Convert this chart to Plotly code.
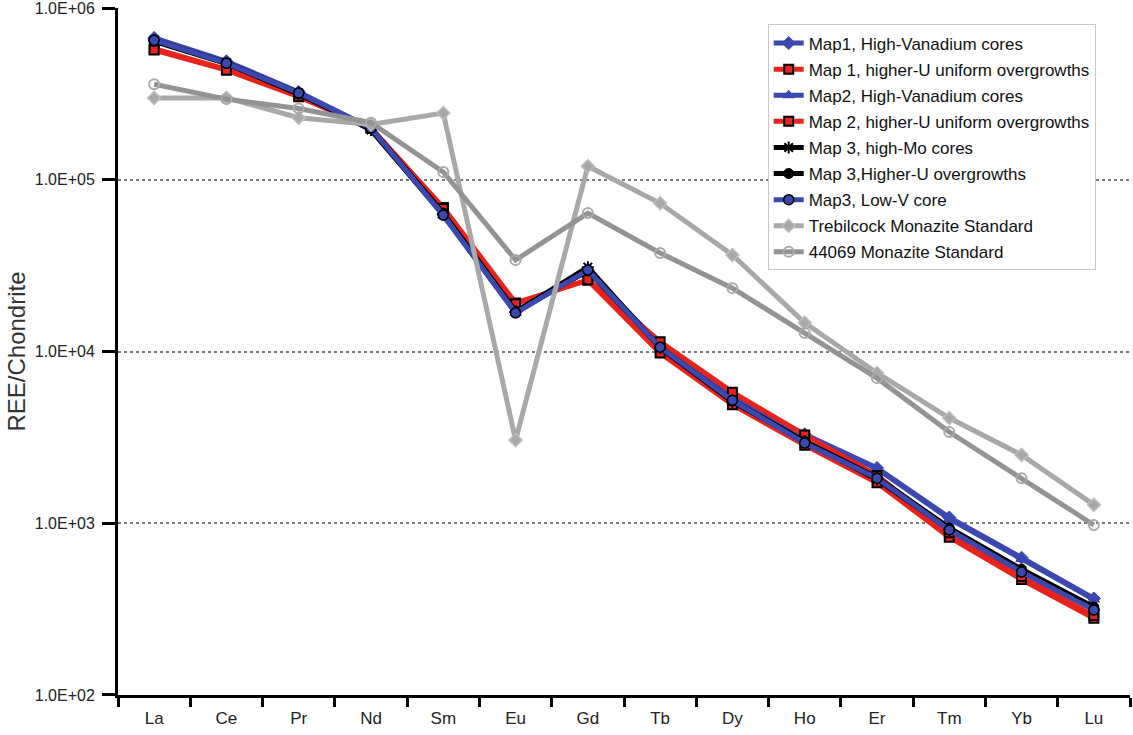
import plotly.graph_objects as go

elements = ["La", "Ce", "Pr", "Nd", "Sm", "Eu", "Gd", "Tb", "Dy", "Ho", "Er", "Tm", "Yb", "Lu"]

map1_hv = [6.7e5, 4.9e5, 3.25e5, 2.0e5, 6.3e4, 1.7e4, 2.95e4, 1.1e4, 5.4e3, 3.3e3, 2.1e3, 1.08e3, 630, 365]
map1_hu = [5.8e5, 4.4e5, 3.1e5, 2.0e5, 6.9e4, 1.92e4, 2.6e4, 9.8e3, 4.9e3, 2.85e3, 1.72e3, 830, 470, 280]
map2_hv = [6.6e5, 4.85e5, 3.2e5, 1.98e5, 6.2e4, 1.68e4, 2.98e4, 1.08e4, 5.3e3, 3.25e3, 2.08e3, 1.06e3, 620, 360]
map2_hu = [5.7e5, 4.35e5, 3.05e5, 2.0e5, 6.8e4, 1.9e4, 2.62e4, 1.14e4, 5.8e3, 3.27e3, 1.9e3, 880, 490, 290]
map3_mo = [6.5e5, 4.8e5, 3.2e5, 1.95e5, 6.3e4, 1.7e4, 3.1e4, 1.05e4, 5.1e3, 3.0e3, 1.8e3, 920, 530, 315]
map3_hu = [6.4e5, 4.75e5, 3.15e5, 2.0e5, 6.4e4, 1.72e4, 2.95e4, 1.06e4, 5.2e3, 3.0e3, 1.85e3, 940, 540, 325]
map3_lv = [6.5e5, 4.78e5, 3.2e5, 2.0e5, 6.23e4, 1.68e4, 2.98e4, 1.06e4, 5.2e3, 2.93e3, 1.83e3, 914, 520, 313]
trebilcock = [3.0e5, 3.0e5, 2.3e5, 2.1e5, 2.45e5, 3.05e3, 1.2e5, 7.3e4, 3.65e4, 1.47e4, 7.5e3, 4.1e3, 2.5e3, 1.28e3]
std_44069 = [3.6e5, 2.95e5, 2.6e5, 2.15e5, 1.11e5, 3.41e4, 6.4e4, 3.75e4, 2.34e4, 1.28e4, 7.0e3, 3.4e3, 1.83e3, 977]

names = [
    "Map1, High-Vanadium cores",
    "Map 1, higher-U uniform overgrowths",
    "Map2, High-Vanadium cores",
    "Map 2, higher-U uniform overgrowths",
    "Map 3, high-Mo cores",
    "Map 3,Higher-U overgrowths",
    "Map3, Low-V core",
    "Trebilcock Monazite Standard",
    "44069 Monazite Standard",
]
y_tick_vals = [1e2, 1e3, 1e4, 1e5, 1e6]
y_tick_text = ["1.0E+02", "1.0E+03", "1.0E+04", "1.0E+05", "1.0E+06"]

BLUE = "#3a48b0"
RED = "#e8231c"
BLACK = "#000000"
GREY1 = "#a8a8a8"
GREY2 = "#939393"

styles = [
    (map1_hv, BLUE, dict(symbol="diamond", size=10, color=BLUE, line=dict(color=BLUE, width=1))),
    (map1_hu, RED, dict(symbol="square", size=9, color=RED, line=dict(color=BLACK, width=2))),
    (map2_hv, BLUE, dict(symbol="triangle-up", size=10, color=BLUE, line=dict(color=BLUE, width=1))),
    (map2_hu, RED, dict(symbol="square", size=9, color=RED, line=dict(color=BLACK, width=2))),
    (map3_mo, BLACK, dict(symbol="asterisk-open", size=10, color=BLACK, line=dict(color=BLACK, width=2))),
    (map3_hu, BLACK, dict(symbol="circle", size=10, color=BLACK, line=dict(color=BLACK, width=1))),
    (map3_lv, BLUE, dict(symbol="circle", size=10, color=BLUE, line=dict(color=BLACK, width=1.5))),
    (trebilcock, GREY1, dict(symbol="diamond", size=10, color=GREY1, line=dict(color="#bdbdbd", width=1.5))),
    (std_44069, GREY2, dict(symbol="circle-open", size=10, color="#a9a9a9", line=dict(color="#a9a9a9", width=2))),
]

fig = go.Figure()
for i, (vals, col, mk) in enumerate(styles):
    fig.add_trace(go.Scatter(
        x=elements, y=vals, name=names[i], mode="lines+markers",
        line=dict(color=col, width=5),
        marker=mk, legendgroup=f"g{i}",
    ))

fig.update_layout(
    width=1133, height=735,
    margin=dict(l=118, r=3, t=8, b=40),
    paper_bgcolor="white", plot_bgcolor="white",
    font=dict(family="Liberation Sans, Arial, sans-serif", size=14, color="#222"),
    showlegend=True,
    legend=dict(
        x=0.642, y=0.976, xanchor="left", yanchor="top",
        bordercolor="#c8c8c8", borderwidth=1, bgcolor="white",
        font=dict(size=17, color="#111"), tracegroupgap=1, traceorder="grouped",
    ),
    xaxis=dict(
        type="category", categoryorder="array", categoryarray=elements,
        range=[-0.5, 13.5], tickson="boundaries", automargin=False,
        showline=True, linecolor="black", linewidth=3,
        ticks="outside", ticklen=9, tickwidth=3, tickcolor="black",
        ticklabelstandoff=6,
        showgrid=False, zeroline=False,
        tickfont=dict(family="Liberation Sans Narrow, Arial Narrow, Liberation Sans, sans-serif", size=17, color="#222"),
    ),
    yaxis=dict(
        type="log", range=[1.9999, 6.0005], automargin=False,
        tickvals=y_tick_vals, ticktext=y_tick_text,
        ticklabeloverflow="allow",
        showline=True, linecolor="black", linewidth=3,
        ticks="outside", ticklen=13, tickwidth=3, tickcolor="black",
        ticklabelstandoff=4,
        showgrid=True, gridcolor="#7a7a7a", gridwidth=2, griddash="dot",
        zeroline=False,
        tickfont=dict(size=16, color="#222"),
        title=dict(text="REE/Chondrite", standoff=3,
                   font=dict(family="Liberation Sans Narrow, Arial Narrow, Liberation Sans, sans-serif", size=24, color="#333")),
    ),
)

fig.write_html("out.html", config={"displayModeBar": False},
               post_script="document.body.style.margin='0';document.body.style.overflow='hidden';")
